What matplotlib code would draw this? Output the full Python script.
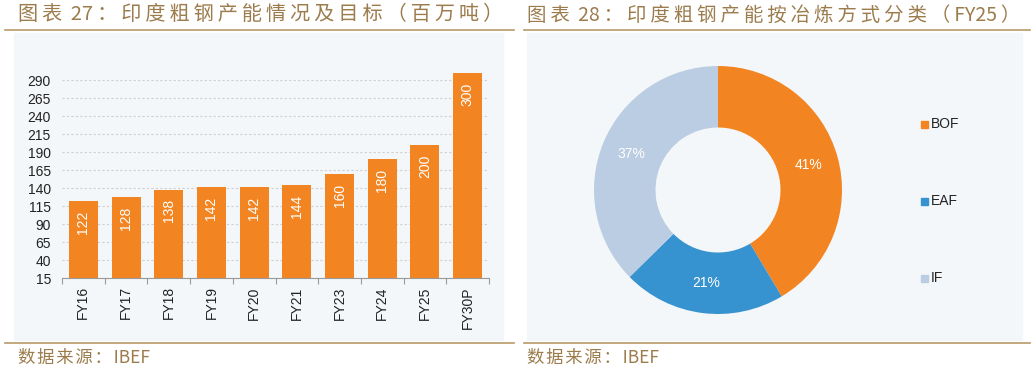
import matplotlib
matplotlib.use('Agg')
import matplotlib.pyplot as plt
from matplotlib.patches import Rectangle
import numpy as np

plt.rcParams['font.family'] = ['Noto Sans CJK SC', 'DejaVu Sans']

years = ['FY16', 'FY17', 'FY18', 'FY19', 'FY20', 'FY21', 'FY23', 'FY24', 'FY25', 'FY30P']
capacity = [122, 128, 138, 142, 142, 144, 160, 180, 200, 300]
yticks = [15, 40, 65, 90, 115, 140, 165, 190, 215, 240, 265, 290]

routes = ['BOF', 'EAF', 'IF']
shares = [41, 21, 37]
route_colors = ['#F28522', '#3792D0', '#BBCDE2']

title1 = '图表 27：印度粗钢产能情况及目标（百万吨）'
title2 = '图表 28：印度粗钢产能按冶炼方式分类（FY25）'
source = '数据来源：IBEF'

W, H = 1031, 371
fig = plt.figure(figsize=(W / 100, H / 100), dpi=100)
fig.patch.set_facecolor('white')


def fx(px):
    return px / W


def fy(py):
    return 1 - py / H


def spaced(s, sp):
    # captions are set with some tracking on the Chinese characters only
    out = s[0]
    for a, b in zip(s, s[1:]):
        if not (a.isascii() and b.isascii()):
            out += sp
        out += b
    return out


tcol = '#9C7C4C'
lcol = '#B89A68'
bg = '#F4F7F9'
num_font = ['Liberation Sans', 'DejaVu Sans']

# panel backgrounds, rules and captions
panels = [(14, 503, 5, 514, 18, 14.5, title1), (527, 1022, 524, 1030, 527, 14.0, title2)]
for x0, x1, l0, l1, tx, tsize, t in panels:
    fig.patches.append(Rectangle((fx(x0), fy(340)), fx(x1 - x0), (340 - 33) / H,
                                 transform=fig.transFigure, color=bg, zorder=-5))
    fig.add_artist(plt.Line2D([fx(l0), fx(l1)], [fy(30), fy(30)], color=lcol, lw=1.2))
    fig.add_artist(plt.Line2D([fx(l0), fx(l1)], [fy(343), fy(343)], color=lcol, lw=1.2))
    fig.text(fx(tx), fy(15), spaced(t, '\u2009'), fontsize=tsize, color=tcol, va='center', ha='left')
    fig.text(fx(tx), fy(358), spaced(source, '\u200a'), fontsize=12.5, color=tcol, va='center', ha='left')

# bar chart
ax = fig.add_axes([fx(62), fy(278), fx(489 - 62), (278 - 66) / H])
ax.set_facecolor('none')
x = list(range(len(years)))
ax.bar(x, capacity, width=0.68, color='#F28522', zorder=2)
ax.set_ylim(15, 310)
ax.set_xlim(-0.5, len(years) - 0.5)
ax.set_yticks(yticks)
ax.set_yticklabels([str(v) for v in yticks], fontsize=10, color='#222222', family=num_font)
ax.set_xticks([i + 0.5 for i in range(-1, len(years))])
ax.set_xticklabels([])
ax.set_xticks(x, minor=True)
ax.set_xticklabels(years, minor=True, rotation=90, fontsize=10, color='#222222', family=num_font)
ax.tick_params(axis='x', which='major', length=4, color='#999999')
ax.tick_params(axis='x', which='minor', length=0, pad=6)
ax.tick_params(axis='y', length=0, pad=8)
ax.grid(axis='y', color='#CFCFCF', linestyle=(0, (2, 2)), lw=0.8, zorder=1)
for s in ['top', 'right', 'left']:
    ax.spines[s].set_visible(False)
ax.spines['bottom'].set_color('#999999')
for xi, v in zip(x, capacity):
    ax.annotate(str(v), (xi, v), xytext=(0, -7), textcoords='offset points', rotation=90,
                ha='center', va='top', color='white', fontsize=10, family=num_font)

# donut chart
r = 124
cx, cy = 718, 190
ax2 = fig.add_axes([fx(cx - r), fy(cy + r), fx(2 * r), 2 * r / H])
ax2.pie(shares, colors=route_colors, startangle=90, counterclock=False,
        radius=1, wedgeprops=dict(width=1 - 62.5 / 124, edgecolor='none'))
ax2.set_xlim(-1, 1)
ax2.set_ylim(-1, 1)
ax2.set_aspect('auto')
lab_r = 0.755
ang = 90
total = sum(shares)
for s in shares:
    mid = np.deg2rad(ang - s / total * 180)
    ax2.text(lab_r * np.cos(mid), lab_r * np.sin(mid), f'{s}%', ha='center', va='center',
             color='white', fontsize=10, family=num_font)
    ang -= s / total * 360

for name, col, py in zip(routes, route_colors, [124, 201, 278]):
    fig.patches.append(Rectangle((fx(921), fy(py + 4)), fx(7), 7 / H,
                                 transform=fig.transFigure, color=col))
    fig.text(fx(931), fy(py), name, fontsize=10, color='#222222', va='center', ha='left',
             family=num_font)

fig.savefig('out.png', dpi=100)
